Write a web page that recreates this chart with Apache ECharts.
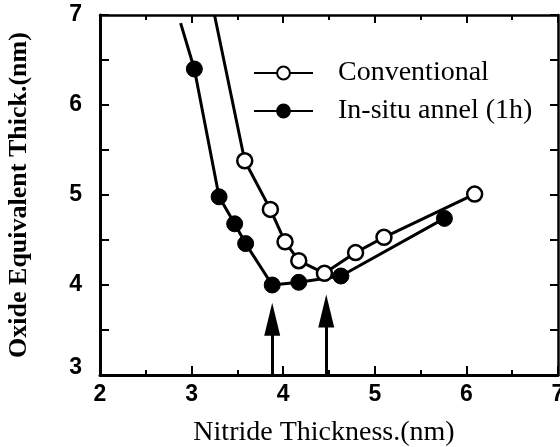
<!DOCTYPE html>
<html>
<head>
<meta charset="utf-8">
<script src="https://cdn.jsdelivr.net/npm/echarts@6/dist/echarts.min.js"></script>
<style>html,body{margin:0;padding:0;background:#fff}#c{width:560px;height:447px}</style>
</head>
<body>
<div id="c"></div>
<script>
// ---- data ----
var conventionalX = [3.25, 3.58, 3.86, 4.02, 4.17, 4.45, 4.79, 5.10, 6.09];
var conventionalY = [7.00, 5.38, 4.84, 4.48, 4.27, 4.13, 4.36, 4.53, 5.01];
var insituX = [2.88, 3.03, 3.30, 3.47, 3.59, 3.88, 4.17, 4.63, 5.76];
var insituY = [6.91, 6.40, 4.98, 4.68, 4.46, 4.00, 4.03, 4.10, 4.74];
// first entry of each list is the end of the curve (no marker)
var arrowX = [3.88, 4.47];
var arrowTipY = [3.80, 3.89];
var xTicks = [2, 3, 4, 5, 6, 7];
var yTicks = [3, 4, 5, 6, 7];
var seriesNames = ['Conventional', 'In-situ annel (1h)'];

function pts(xs, ys) {
  return xs.map(function (x, i) {
    var d = { value: [x, ys[i]] };
    if (i === 0) d.symbol = 'none';
    return d;
  });
}
var headHalf = 0.18; // half arrow head height in data units
var arrowData = arrowX.map(function (x, i) {
  return [{ coord: [x, yTicks[0]] }, { coord: [x, arrowTipY[i] - headHalf] }];
});

var chart = echarts.init(document.getElementById('c'));
var tickStyle = { color: '#000', width: 2 };
var option = {
  backgroundColor: '#fff',
  animation: false,
  grid: { left: 100, right: 2, top: 15, bottom: 72, containLabel: false, outerBoundsMode: 'none' },
  legend: {
    orient: 'vertical',
    left: 253, top: 59, padding: 0,
    itemWidth: 59, itemHeight: 16, itemGap: 10,
    data: seriesNames,
    textStyle: { fontFamily: 'Liberation Serif', fontSize: 28, lineHeight: 28, color: '#000', padding: [0, 0, 0, 20] }
  },
  xAxis: [{
    type: 'value', min: xTicks[0], max: xTicks[xTicks.length - 1], interval: 1,
    name: 'Nitride Thickness.(nm)', nameLocation: 'middle', nameGap: 44,
    nameTextStyle: { fontFamily: 'Liberation Serif', fontSize: 28, color: '#000', padding: [0, 10, 0, 0] },
    axisLine: { lineStyle: { color: '#000', width: 3 } },
    axisTick: { inside: true, length: 9, lineStyle: tickStyle },
    minorTick: { show: true, splitNumber: 2, length: 5, lineStyle: tickStyle },
    axisLabel: { fontFamily: 'Liberation Sans', fontWeight: 'bold', fontSize: 23, color: '#000', margin: 8 },
    splitLine: { show: false }
  }, {
    type: 'value', position: 'top', min: xTicks[0], max: xTicks[xTicks.length - 1], interval: 1,
    axisLine: { lineStyle: { color: '#000', width: 2.5 } },
    axisTick: { inside: true, length: 8, lineStyle: tickStyle },
    minorTick: { show: true, splitNumber: 2, length: 5, lineStyle: tickStyle },
    axisLabel: { show: false }, splitLine: { show: false }
  }],
  yAxis: [{
    type: 'value', min: yTicks[0], max: yTicks[yTicks.length - 1], interval: 1,
    name: 'Oxide Equivalent Thick.(nm)', nameLocation: 'middle', nameGap: 68,
    nameTextStyle: { fontFamily: 'Liberation Serif', fontWeight: 'bold', fontSize: 26, color: '#000' },
    axisLine: { lineStyle: { color: '#000', width: 3 } },
    axisTick: { inside: true, length: 9, lineStyle: tickStyle },
    minorTick: { show: true, splitNumber: 2, length: 9, lineStyle: tickStyle },
    axisLabel: {
      fontFamily: 'Liberation Sans', fontWeight: 'bold', fontSize: 23, color: '#000', margin: 18,
      formatter: function (v) { return v === yTicks[0] ? '{low|' + v + '}' : String(v); },
      rich: { low: { fontFamily: 'Liberation Sans', fontWeight: 'bold', fontSize: 23, color: '#000', padding: [0, 0, 14, 0] } }
    },
    splitLine: { show: false }
  }, {
    type: 'value', position: 'right', min: yTicks[0], max: yTicks[yTicks.length - 1], interval: 1,
    axisLine: { lineStyle: { color: '#000', width: 2.5 } },
    axisTick: { inside: true, length: 8, lineStyle: tickStyle },
    minorTick: { show: true, splitNumber: 2, length: 8, lineStyle: tickStyle },
    axisLabel: { show: false }, splitLine: { show: false }
  }],
  series: [{
    name: seriesNames[1], type: 'line', xAxisIndex: 0, yAxisIndex: 0,
    data: pts(insituX, insituY),
    symbol: 'circle', symbolSize: 16,
    lineStyle: { color: '#000', width: 3 },
    itemStyle: { color: '#000', borderColor: '#000', borderWidth: 1 },
    markLine: {
      silent: true, symbol: ['none', 'triangle'], symbolSize: [16, 33],
      label: { show: false },
      lineStyle: { color: '#000', width: 3, type: 'solid' },
      data: arrowData
    }
  }, {
    name: seriesNames[0], type: 'line', xAxisIndex: 0, yAxisIndex: 0,
    data: pts(conventionalX, conventionalY),
    symbol: 'circle', symbolSize: 15,
    lineStyle: { color: '#000', width: 3 },
    itemStyle: { color: '#fff', borderColor: '#000', borderWidth: 2.5 }
  }]
};
chart.setOption(option);
</script>
</body>
</html>
